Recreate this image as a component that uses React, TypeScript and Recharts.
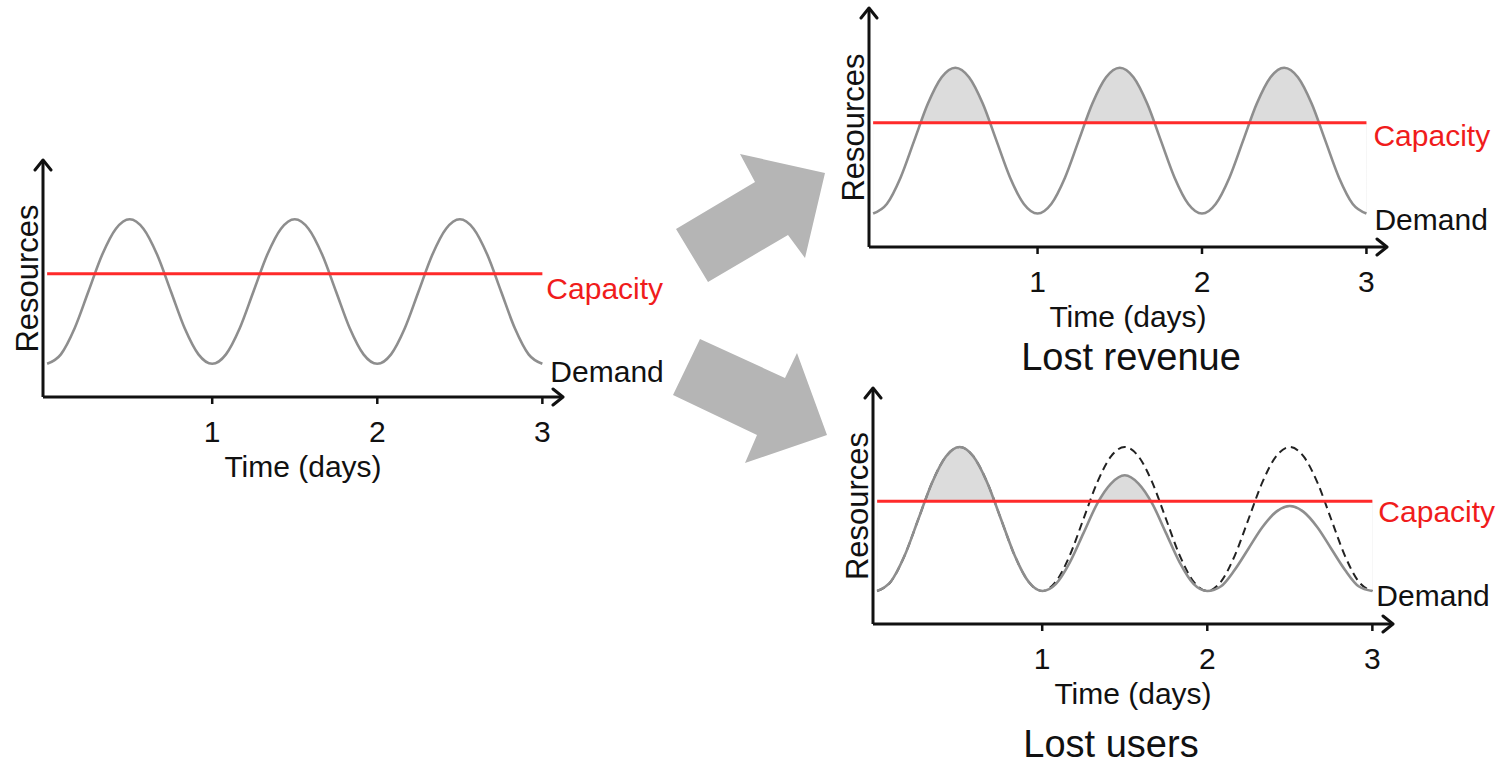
import React from 'react';
import { ComposedChart, Line, Area, XAxis, YAxis, Label } from 'recharts';

const FONT = '"Liberation Sans", Arial, Helvetica, sans-serif';
const FS = 30;

// time in hours (x axis shows days)
const hours = [0, 2, 4, 6, 8, 10, 12, 14, 16, 18, 20, 22, 24, 26, 28, 30, 32, 34, 36, 38, 40, 42, 44, 46, 48, 50, 52, 54, 56, 58, 60, 62, 64, 66, 68, 70, 72];

// expected demand (same daily cycle every day)
const demand = [
  1.4, 1.8, 2.9, 4.45, 6.0, 7.1, 7.5, 7.1, 6.0, 4.45, 2.9, 1.8,
  1.4, 1.8, 2.9, 4.45, 6.0, 7.1, 7.5, 7.1, 6.0, 4.45, 2.9, 1.8,
  1.4, 1.8, 2.9, 4.45, 6.0, 7.1, 7.5, 7.1, 6.0, 4.45, 2.9, 1.8,
  1.4,
];

// demand after users are lost (bottom-right panel)
const demandAfterLoss = [
  1.4, 1.8, 2.9, 4.45, 6.0, 7.1, 7.5, 7.1, 6.0, 4.45, 2.9, 1.8,
  1.4, 1.7, 2.6, 3.85, 5.1, 5.95, 6.3, 5.95, 5.1, 3.85, 2.6, 1.7,
  1.4, 1.6, 2.3, 3.2, 4.1, 4.75, 5.0, 4.75, 4.1, 3.2, 2.3, 1.6,
  1.4,
];

const capacity = 5.2;

const xTicks = [24, 48, 72];
const xTickLabels = ['1', '2', '3'];

const LAST = hours.length - 1;

type PanelProps = {
  id: string;
  left: number;
  top: number;
  width: number;
  height: number;
  marginRight: number;
  solid: number[];
  dashed?: number[];
  shade?: boolean;
  capDx: number;
  capDy: number;
  demDx: number;
  demDy: number;
};

function endText(text: string, color: string, dx: number, dy: number, key: string) {
  return (p: any) => {
    if (p.index !== LAST) return <g key={`${key}-${p.index}`} />;
    return (
      <text key={`${key}-end`} x={p.cx + dx} y={p.cy + dy} fill={color} fontSize={FS} fontFamily={FONT}>
        {text}
      </text>
    );
  };
}

function Panel(props: PanelProps) {
  const data = hours.map((h, i) => ({
    h,
    demand: props.solid[i],
    expected: props.dashed ? props.dashed[i] : undefined,
  }));
  const mk = `arrowhead-${props.id}`;
  return (
    <div style={{ position: 'absolute', left: props.left, top: props.top }}>
      <ComposedChart
        width={props.width}
        height={props.height}
        data={data}
        margin={{ top: 8, right: props.marginRight, bottom: 0, left: 11 }}
      >
        <defs>
          <marker
            id={mk}
            viewBox="0 0 20 20"
            refX="18"
            refY="10"
            markerWidth="20"
            markerHeight="20"
            markerUnits="userSpaceOnUse"
            orient="auto-start-reverse"
          >
            <path d="M8,2 L18,10 L8,18" fill="none" stroke="#111" strokeWidth={3} strokeLinecap="round" strokeLinejoin="round" />
          </marker>
        </defs>
        {props.shade && (
          <Area
            dataKey="demand"
            baseValue={capacity}
            type="monotone"
            fill="#dcdcdc"
            fillOpacity={1}
            stroke="none"
            isAnimationActive={false}
          />
        )}
        {props.shade && (
          <Area
            dataKey={() => [1, capacity]}
            type="linear"
            fill="#ffffff"
            fillOpacity={1}
            stroke="none"
            isAnimationActive={false}
          />
        )}
        {props.dashed && (
          <Line
            dataKey="expected"
            type="monotone"
            stroke="#222"
            strokeWidth={2}
            strokeDasharray="8 5"
            dot={false}
            activeDot={false}
            isAnimationActive={false}
          />
        )}
        <Line
          dataKey="demand"
          type="monotone"
          stroke="#8e8e8e"
          strokeWidth={2.6}
          dot={endText('Demand', '#111', props.demDx, props.demDy, `${props.id}-dem`)}
          activeDot={false}
          isAnimationActive={false}
        />
        <Line
          dataKey={() => capacity}
          type="linear"
          stroke="#ff2a2a"
          strokeWidth={3}
          dot={endText('Capacity', '#f01c1c', props.capDx, props.capDy, `${props.id}-cap`)}
          activeDot={false}
          isAnimationActive={false}
        />
        <XAxis
          dataKey="h"
          type="number"
          domain={[-0.6, 75]}
          ticks={xTicks}
          interval={0}
          tickFormatter={(v: number) => xTickLabels[xTicks.indexOf(v)]}
          height={90}
          axisLine={{ stroke: '#111', strokeWidth: 3, markerEnd: `url(#${mk})` }}
          tickLine={{ stroke: '#111', strokeWidth: 2.5 }}
          tickSize={7}
          tickMargin={17}
          tick={{ fill: '#111', fontSize: FS, fontFamily: FONT }}
        >
          <Label value="Time (days)" position="insideBottom" offset={10} fill="#111" fontSize={FS} fontFamily={FONT} />
        </XAxis>
        <YAxis
          type="number"
          domain={[0, 10]}
          width={32}
          tick={false}
          tickLine={false}
          axisLine={{ stroke: '#111', strokeWidth: 3, markerStart: `url(#${mk})` }}
        >
          <Label value="Resources" angle={-90} position="center" fill="#111" fontSize={31} fontFamily={FONT} />
        </YAxis>
      </ComposedChart>
    </div>
  );
}

export default function App() {
  return (
    <div
      style={{
        position: 'absolute',
        left: 0,
        top: 0,
        width: 1504,
        height: 766,
        background: '#fff',
        fontFamily: FONT,
        overflow: 'hidden',
      }}
    >
      <svg width={1504} height={766} style={{ position: 'absolute', left: 0, top: 0 }}>
        <polygon points="676,229 755,182 740,154 825,173 805,258 788,235 708,282" fill="#b5b5b5" />
        <polygon points="700,339 785,378 797,353 827,435 745,463 757,435 673,395" fill="#b5b5b5" />
        <text x={1131} y={370} textAnchor="middle" fontSize={38} fontFamily={FONT} fill="#111">
          Lost revenue
        </text>
        <text x={1111} y={757} textAnchor="middle" fontSize={38} fontFamily={FONT} fill="#111">
          Lost users
        </text>
      </svg>
      <Panel
        id="base"
        left={0}
        top={152}
        width={700}
        height={335}
        marginRight={137}
        solid={demand}
        capDx={4}
        capDy={25}
        demDx={8}
        demDy={18}
      />
      <Panel
        id="rev"
        left={826}
        top={0}
        width={678}
        height={337}
        marginRight={117}
        solid={demand}
        shade
        capDx={7}
        capDy={23}
        demDx={8}
        demDy={16}
      />
      <Panel
        id="users"
        left={830}
        top={380}
        width={674}
        height={334}
        marginRight={111}
        solid={demandAfterLoss}
        dashed={demand}
        shade
        capDx={6}
        capDy={21}
        demDx={4}
        demDy={15}
      />
    </div>
  );
}
